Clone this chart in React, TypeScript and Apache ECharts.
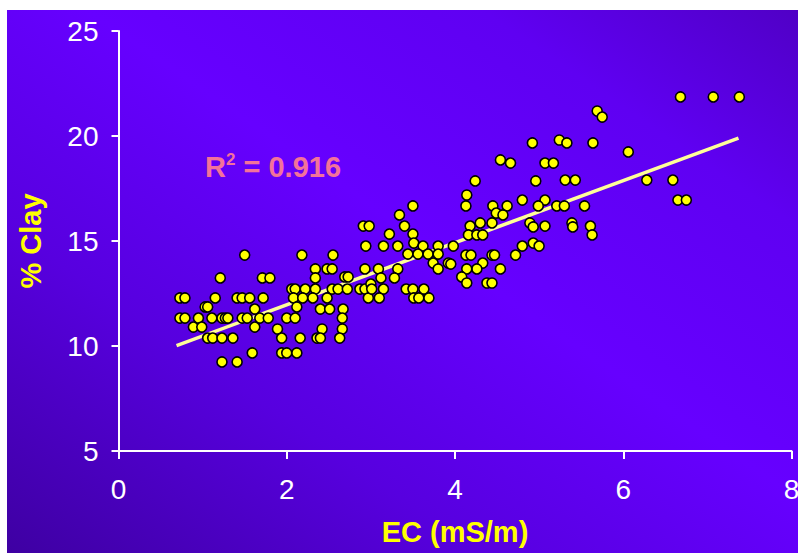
import React, { useEffect, useRef } from "react";
import * as echarts from "echarts";

// EC (mS/m) readings
const ecValues: number[] = [
  1.50, 1.21, 1.71, 1.80, 0.73, 0.79, 1.15, 1.41, 1.47, 1.56, 1.72, 1.03, 1.06, 1.62, 0.73, 0.79,
  0.95, 1.11, 1.23, 1.27, 1.30, 1.47, 1.53, 1.68, 1.78, 0.89, 0.99, 1.62, 1.06, 1.12, 1.23, 1.36,
  1.59, 1.23, 1.41,
  2.18, 2.55, 2.34, 2.48, 2.54, 2.34, 2.69, 2.93, 2.06, 2.10, 2.22, 2.34, 2.54, 2.61, 2.72, 2.87,
  2.93, 2.08, 2.19, 2.31, 2.48, 2.97, 2.12, 2.40, 2.51, 2.67, 2.00, 2.10, 2.66, 1.89, 2.42, 2.66,
  1.94, 2.16, 2.36, 2.40, 2.63, 1.94, 2.00, 2.12,
  3.50, 3.34, 2.91, 2.98, 3.40, 3.22, 3.50, 2.94, 3.15, 3.32, 3.51, 3.62, 3.80, 3.44, 3.56, 3.68,
  3.80, 3.92, 3.74, 3.80, 3.09, 3.32, 2.73, 3.12, 3.28, 3.00, 3.01, 3.15, 3.42, 3.50, 3.63, 3.10,
  3.51, 3.57, 3.69,
  4.92, 4.54, 4.66, 4.24, 4.96, 4.14, 4.13, 4.45, 4.62, 4.80, 4.49, 4.57, 4.18, 4.30, 4.44, 4.89,
  4.93, 4.16, 4.26, 4.33, 3.98, 4.13, 4.19, 4.44, 4.47, 4.72, 4.80, 4.93, 3.95, 4.33, 4.26, 4.14,
  4.54, 4.08, 4.14, 4.38, 4.44,
  5.69, 5.75, 5.24, 5.33, 5.64, 6.06, 5.07, 5.17, 5.31, 5.43, 5.07, 4.99, 5.21, 5.30, 5.54, 5.07,
  5.39, 5.40, 5.61, 5.63, 5.00,
  6.68, 7.07, 7.38, 6.28, 6.59, 6.65, 6.75,
];

// % Clay readings (same order as ecValues)
const clayValues: number[] = [
  14.33, 13.24, 13.24, 13.24, 12.29, 12.29, 12.29, 12.29, 12.29, 12.29, 12.29, 11.86, 11.86, 11.76, 11.33, 11.33,
  11.33, 11.33, 11.33, 11.33, 11.33, 11.33, 11.33, 11.33, 11.33, 10.90, 10.90, 10.90, 10.38, 10.38, 10.38, 10.38,
  9.67, 9.24, 9.24,
  14.33, 14.33, 13.67, 13.67, 13.67, 13.24, 13.29, 13.67, 12.71, 12.71, 12.71, 12.71, 12.71, 12.71, 12.71, 12.71,
  12.71, 12.29, 12.29, 12.29, 12.29, 12.29, 11.86, 11.76, 11.76, 11.76, 11.33, 11.33, 11.33, 10.81, 10.81, 10.81,
  10.38, 10.38, 10.38, 10.38, 10.38, 9.67, 9.67, 9.67,
  16.67, 16.24, 15.71, 15.71, 15.71, 15.33, 15.33, 14.76, 14.76, 14.76, 14.90, 14.76, 14.76, 14.38, 14.38, 14.38,
  14.38, 13.95, 13.95, 13.67, 13.67, 13.67, 13.29, 13.24, 13.24, 12.95, 12.71, 12.71, 12.71, 12.71, 12.71, 12.29,
  12.29, 12.29, 12.29,
  19.67, 18.86, 18.71, 17.86, 17.86, 17.19, 16.67, 16.67, 16.67, 16.95, 16.33, 16.24, 15.71, 15.86, 15.86, 15.86,
  15.67, 15.29, 15.29, 15.29, 14.76, 14.33, 14.33, 14.33, 14.33, 14.33, 14.76, 14.90, 13.90, 13.95, 13.67, 13.67,
  13.67, 13.29, 13.00, 13.00, 13.00,
  21.19, 20.90, 19.81, 19.67, 19.67, 19.24, 18.71, 18.71, 17.90, 17.90, 16.95, 16.67, 16.67, 16.67, 16.67, 15.71,
  15.86, 15.67, 15.71, 15.29, 14.76,
  21.86, 21.86, 21.86, 17.90, 17.90, 16.95, 16.95,
];

// Trend line end points
const trendX: number[] = [0.69, 7.37];
const trendY: number[] = [10.02, 19.9];

const xTicks = { min: 0, max: 8, interval: 2 };
const yTicks = { min: 5, max: 25, interval: 5 };

const rSquaredText = "0.916";
const xTitle = "EC (mS/m)";
const yTitle = "% Clay";

export default function App() {
  const ref = useRef<HTMLDivElement | null>(null);

  useEffect(() => {
    if (!ref.current) return;
    const chart = echarts.init(ref.current, undefined, { renderer: "svg" });
    const font = "'Liberation Sans', Arial, Helvetica, sans-serif";
    const titleStyle = {
      color: "#FFFF00",
      fontSize: 29,
      fontWeight: "bold" as const,
      fontFamily: font,
      textShadowColor: "#1a0040",
      textShadowOffsetX: 2,
      textShadowOffsetY: 2,
      textShadowBlur: 0,
    };
    chart.setOption({
      animation: false,
      graphic: [
        {
          type: "rect",
          z: -100,
          silent: true,
          shape: { x: 0, y: 0, width: 791, height: 543 },
          style: {
            fill: new echarts.graphic.LinearGradient(0, 1, 1, 0, [
              { offset: 0, color: "#3E00A2" },
              { offset: 0.3, color: "#5700DF" },
              { offset: 0.55, color: "#6600FF" },
              { offset: 0.8, color: "#5F00F2" },
              { offset: 1, color: "#5000C6" },
            ]),
          },
        },
        {
          type: "text",
          left: 198,
          top: 141,
          style: {
            text: "{a|R}{b|2}{a| = " + rSquaredText + "}",
            rich: {
              a: {
                fontSize: 29,
                fontWeight: "bold",
                fontFamily: font,
                fill: "#F4729A",
                color: "#F4729A",
                lineHeight: 32,
                textShadowColor: "#1a0040",
                textShadowOffsetX: 2,
                textShadowOffsetY: 2,
              },
              b: {
                fontSize: 17,
                fontWeight: "bold",
                fontFamily: font,
                fill: "#F4729A",
                color: "#F4729A",
                verticalAlign: "top",
                lineHeight: 18,
                textShadowColor: "#1a0040",
                textShadowOffsetX: 2,
                textShadowOffsetY: 2,
              },
            },
          },
        },
      ],
      grid: { left: 111.5, right: 6.5, top: 21, bottom: 102, outerBoundsMode: "none", containLabel: false },
      xAxis: {
        type: "value",
        min: xTicks.min,
        max: xTicks.max,
        interval: xTicks.interval,
        name: xTitle,
        nameLocation: "middle",
        nameGap: 66,
        nameTextStyle: titleStyle,
        axisLine: { show: true, lineStyle: { color: "#FFFFFF", width: 2 } },
        axisTick: { show: true, length: 8, lineStyle: { color: "#FFFFFF", width: 2 } },
        axisLabel: { color: "#FFFFFF", fontSize: 28, fontFamily: font, margin: 24 },
        splitLine: { show: false },
      },
      yAxis: {
        type: "value",
        min: yTicks.min,
        max: yTicks.max,
        interval: yTicks.interval,
        name: yTitle,
        nameLocation: "middle",
        nameGap: 73,
        nameRotate: 90,
        nameTextStyle: titleStyle,
        axisLine: { show: true, lineStyle: { color: "#FFFFFF", width: 2 } },
        axisTick: { show: true, length: 7, lineStyle: { color: "#FFFFFF", width: 2 } },
        axisLabel: { color: "#FFFFFF", fontSize: 28, fontFamily: font, margin: 20 },
        splitLine: { show: false },
      },
      series: [
        {
          type: "line",
          data: trendX.map((x, i) => [x, trendY[i]]),
          symbol: "none",
          lineStyle: { color: "#FFFF99", width: 3.5 },
          z: 3,
          silent: true,
        },
        {
          type: "scatter",
          data: ecValues.map((x, i) => [x, clayValues[i]]),
          symbol: "circle",
          symbolSize: 10,
          itemStyle: { color: "#FFFF00", borderColor: "#000000", borderWidth: 1.6, opacity: 1 },
          z: 4,
        },
      ],
    });
    return () => chart.dispose();
  }, []);

  return (
    <div
      ref={ref}
      style={{ position: "absolute", left: 7, top: 10, width: 791, height: 543 }}
    />
  );
}
